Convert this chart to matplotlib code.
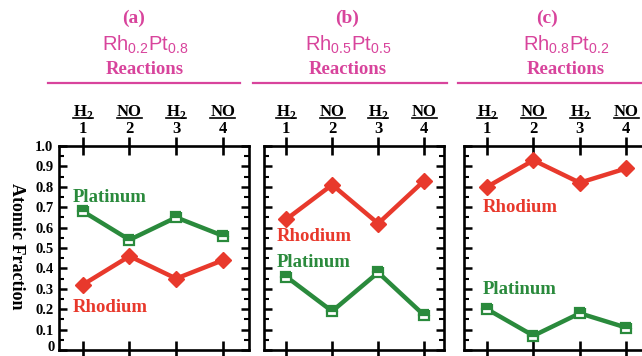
import matplotlib
matplotlib.use("Agg")
import matplotlib.pyplot as plt
from matplotlib.ticker import MultipleLocator, FuncFormatter
from matplotlib.transforms import blended_transform_factory
from matplotlib.lines import Line2D

# ---- data ----
steps = [1, 2, 3, 4]
gases = ["H$_\\mathregular{2}$", "NO", "H$_\\mathregular{2}$", "NO"]
panel_tags = ["(a)", "(b)", "(c)"]
compositions = ["Rh$_\\mathregular{0.2}$Pt$_\\mathregular{0.8}$",
                "Rh$_\\mathregular{0.5}$Pt$_\\mathregular{0.5}$",
                "Rh$_\\mathregular{0.8}$Pt$_\\mathregular{0.2}$"]
rhodium = [
    [0.32, 0.46, 0.35, 0.44],
    [0.64, 0.81, 0.62, 0.83],
    [0.80, 0.93, 0.82, 0.89],
]
platinum = [
    [0.68, 0.54, 0.65, 0.56],
    [0.36, 0.19, 0.38, 0.17],
    [0.20, 0.07, 0.18, 0.11],
]
yticks = [0, 0.1, 0.2, 0.3, 0.4, 0.5, 0.6, 0.7, 0.8, 0.9, 1.0]

RED = "#e8392c"
GREEN = "#2a8a3c"
MAGENTA = "#d8449c"
SERIF = "Liberation Serif"
SANS = "Liberation Sans"

W, H = 642, 356
fig = plt.figure(figsize=(W / 100, H / 100), dpi=100)
fig.patch.set_facecolor("white")

def fx(px):
    return px / W

def fy(py):
    return 1 - py / H

# axes geometry (pixel left/right, x-limits), label anchor positions
axes_spec = [
    dict(left=59, right=249, xlim=(0.49, 4.56)),
    dict(left=264, right=444, xlim=(0.52, 4.43)),
    dict(left=464, right=652, xlim=(0.50, 4.56)),
]
label_pos = [
    dict(pt=(0.79, 0.75), rh=(0.79, 0.21)),
    dict(pt=(0.80, 0.43), rh=(0.80, 0.555)),
    dict(pt=(0.91, 0.295), rh=(0.91, 0.70)),
]
title_x = [134, 347, 547]
text_x = [145, 348, 566]
rule_span = [(48, 240), (253, 447), (458, 660)]

top, bottom = 146, 350
fig.canvas.draw()

gas_texts = []
for i, spec in enumerate(axes_spec):
    ax = fig.add_axes([fx(spec["left"]), fy(bottom),
                       fx(spec["right"] - spec["left"]), (bottom - top) / H])
    ax.set_xlim(*spec["xlim"])
    ax.set_ylim(0, 1.0)
    for s in ax.spines.values():
        s.set_linewidth(1.9)

    ax.plot(steps, rhodium[i], color=RED, lw=3.2, marker="D", ms=8.5,
            mfc=RED, mec=RED, zorder=3, clip_on=False)
    ax.plot(steps, platinum[i], color=GREEN, lw=3.2, marker="s", ms=7.5,
            fillstyle="top", mfc=GREEN, mfcalt="white", mec=GREEN, mew=1.6,
            zorder=3, clip_on=False)

    ax.text(*label_pos[i]["pt"], "Platinum", color=GREEN, fontsize=13.5,
            fontweight="bold", family=SERIF, ha="left", va="center")
    ax.text(*label_pos[i]["rh"], "Rhodium", color=RED, fontsize=13.5,
            fontweight="bold", family=SERIF, ha="left", va="center")

    # y ticks on both sides, pointing in
    ax.set_yticks(yticks)
    ax.yaxis.set_minor_locator(MultipleLocator(0.05))
    ax.tick_params(axis="y", which="major", direction="in", length=6,
                   width=1.8, left=True, right=True, pad=4)
    ax.tick_params(axis="y", which="minor", direction="in", length=3.5,
                   width=1.5, left=True, right=True)
    if i == 0:
        # the zero label sits a little higher so it stays inside the figure
        ax.yaxis.set_major_formatter(
            FuncFormatter(lambda v, p: "" if abs(v) < 1e-9 else f"{v:.1f}"))
        for lab in ax.get_yticklabels():
            lab.set_family(SERIF)
            lab.set_fontweight("bold")
            lab.set_fontsize(10.5)
        ytr = blended_transform_factory(fig.transFigure, ax.transData)
        fig.text(fx(54.5), 0.012, "0", transform=ytr, family=SERIF,
                 fontweight="bold", fontsize=10.5, ha="right", va="center")
    else:
        ax.set_yticklabels([])

    # x ticks crossing top and bottom spines, numbers on top
    ax.set_xticks(steps)
    ax.tick_params(axis="x", direction="inout", length=13, width=1.9,
                   top=True, bottom=True, labeltop=True, labelbottom=False,
                   pad=0)
    ax.set_xticklabels([str(s) for s in steps], family=SERIF,
                       fontweight="bold", fontsize=12)

    # gas labels above the step numbers
    tr = blended_transform_factory(ax.transData, fig.transFigure)
    for s, g in zip(steps, gases):
        t = fig.text(s, fy(116), g, transform=tr, fontsize=12,
                     fontweight="bold", family=SERIF, ha="center",
                     va="baseline")
        gas_texts.append(t)

    # panel headings
    fig.text(fx(title_x[i]), fy(18), panel_tags[i], color=MAGENTA,
             fontsize=14, fontweight="bold", family=SERIF,
             ha="center", va="center")
    fig.text(fx(text_x[i]), fy(45), compositions[i], color=MAGENTA,
             fontsize=14.5, family=SANS, ha="center", va="center")
    fig.text(fx(text_x[i]), fy(69), "Reactions", color=MAGENTA,
             fontsize=13.5, fontweight="bold", family=SERIF,
             ha="center", va="center")
    x0, x1 = rule_span[i]
    fig.add_artist(Line2D([fx(x0), fx(x1)], [fy(83), fy(83)],
                          color=MAGENTA, lw=1.6, transform=fig.transFigure))

# underline the gas labels
fig.canvas.draw()
for t in gas_texts:
    bb = t.get_window_extent(renderer=fig.canvas.get_renderer())
    yl = fy(118)
    fig.add_artist(Line2D([bb.x0 / W, bb.x1 / W], [yl, yl], color="black",
                          lw=1.2, transform=fig.transFigure))

fig.text(fx(16), fy(246), "Atomic Fraction", rotation=270, fontsize=13,
         fontweight="bold", family=SERIF, ha="center", va="center")

fig.savefig("out.png", dpi=100, facecolor="white")
